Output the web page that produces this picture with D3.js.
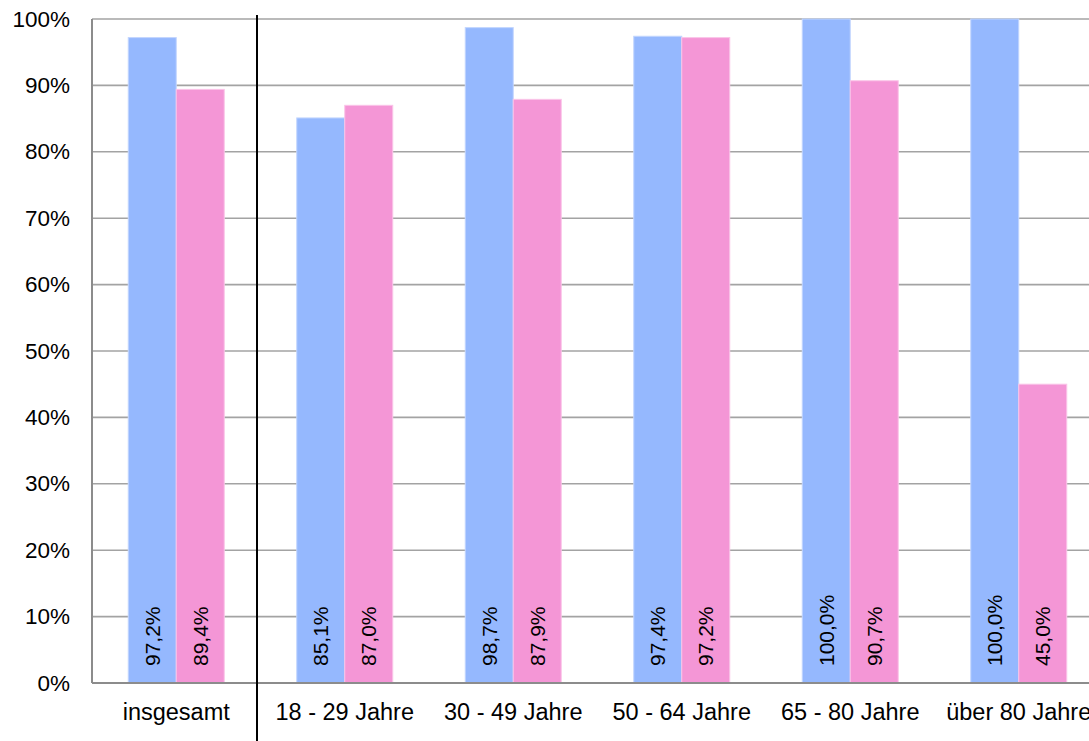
<!DOCTYPE html>
<html>
<head>
<meta charset="utf-8">
<script src="https://cdn.jsdelivr.net/npm/d3@7"></script>
<style>
  html, body { margin: 0; padding: 0; background: #fff; overflow: hidden; }
  svg { display: block; font-family: Arial, "Liberation Sans", sans-serif; }
</style>
</head>
<body>
<svg id="chart"></svg>
<script>
const categories = ['insgesamt', '18 - 29 Jahre', '30 - 49 Jahre', '50 - 64 Jahre', '65 - 80 Jahre', 'über 80 Jahre']
const seriesBlue = [97.2, 85.1, 98.7, 97.4, 100.0, 100.0]
const seriesPink = [89.4, 87.0, 87.9, 97.2, 90.7, 45.0]
const yTicks = [0, 10, 20, 30, 40, 50, 60, 70, 80, 90, 100]

const width = 1089
const height = 741
const margin = { top: 19, left: 92, bottom: 58 }
const plotWidth = 168.5 * categories.length

const svg = d3.select('#chart')
  .attr('width', width)
  .attr('height', height)

const x = d3.scaleBand()
  .domain(categories)
  .range([margin.left, margin.left + plotWidth])

const inner = d3.scaleBand()
  .domain(['blue', 'pink'])
  .range([0, 96])

const y = d3.scaleLinear()
  .domain([0, 100])
  .range([height - margin.bottom, margin.top])

const fmt = (v) => d3.format('.1f')(v).replace('.', ',') + '%'

// gridlines
svg.append('g')
  .selectAll('line')
  .data(yTicks.filter((d) => d > 0))
  .enter().append('line')
    .attr('x1', margin.left)
    .attr('x2', margin.left + plotWidth)
    .attr('y1', (d) => y(d))
    .attr('y2', (d) => y(d))
    .attr('stroke', '#a3a3a3')
    .attr('stroke-width', 1.6)

// y tick labels
svg.append('g')
  .selectAll('text')
  .data(yTicks)
  .enter().append('text')
    .attr('x', 70)
    .attr('y', (d) => y(d))
    .attr('text-anchor', 'end')
    .attr('dominant-baseline', 'central')
    .attr('font-size', 22.5)
    .attr('fill', '#000')
    .text((d) => d + '%')

const series = [
  { key: 'blue', values: seriesBlue, color: '#95b8fe', edge: '#c2d5fe' },
  { key: 'pink', values: seriesPink, color: '#f496d6', edge: '#fac4e8' },
]

const offset = (x.bandwidth() - 96) / 2

series.forEach((s) => {
  const g = svg.append('g')
  g.selectAll('rect')
    .data(s.values)
    .enter().append('rect')
      .attr('x', (d, i) => x(categories[i]) + offset + inner(s.key))
      .attr('y', (d) => y(d))
      .attr('width', inner.bandwidth())
      .attr('height', (d) => y(0) - y(d))
      .attr('fill', s.color)
      .attr('stroke', s.edge)
      .attr('stroke-width', 1)

  g.selectAll('text')
    .data(s.values)
    .enter().append('text')
      .attr('transform', (d, i) => {
        const cx = x(categories[i]) + offset + inner(s.key) + inner.bandwidth() / 2
        return `translate(${cx},${y(0) - 17}) rotate(-90)`
      })
      .attr('dominant-baseline', 'central')
      .attr('font-size', 21)
      .attr('fill', '#000')
      .text((d) => fmt(d))
})

// axes lines
svg.append('line')
  .attr('x1', margin.left).attr('x2', margin.left)
  .attr('y1', y(100)).attr('y2', y(0))
  .attr('stroke', '#8c8c8c').attr('stroke-width', 2)

svg.append('line')
  .attr('x1', margin.left).attr('x2', margin.left + plotWidth)
  .attr('y1', y(0)).attr('y2', y(0))
  .attr('stroke', '#8c8c8c').attr('stroke-width', 2)

// category labels
svg.append('g')
  .selectAll('text')
  .data(categories)
  .enter().append('text')
    .attr('x', (d) => x(d) + x.bandwidth() / 2)
    .attr('y', 720)
    .attr('text-anchor', 'middle')
    .attr('font-size', 23.5)
    .attr('fill', '#000')
    .text((d) => d)

// separator between total and age groups
svg.append('line')
  .attr('x1', 257).attr('x2', 257)
  .attr('y1', 15).attr('y2', height)
  .attr('stroke', '#000').attr('stroke-width', 2)
</script>
</body>
</html>
